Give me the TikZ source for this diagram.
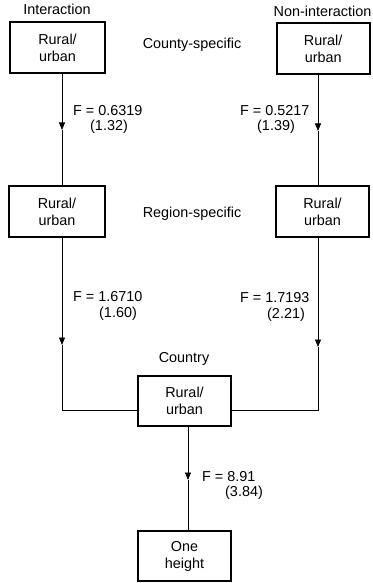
\documentclass[tikz,border=0pt]{standalone}
\usepackage{fontspec}
\setmainfont{Liberation Sans}
\usetikzlibrary{arrows.meta}
\begin{document}
\begin{tikzpicture}[x=1pt,y=-1pt,
  every node/.style={font=\fontsize{14.4}{17}\selectfont, inner sep=0pt},
  box/.style={draw, line width=1.8pt, align=center, minimum height=51pt},
  conn/.style={line width=0.8pt},
  arr/.style={conn,-{Triangle[width=6pt,length=7.5pt]}},
  lbl/.style={anchor=base west},
  head/.style={anchor=base}]
\useasboundingbox (0,0) rectangle (372,583);
% boxes
\node[box, minimum width=95pt] (L1) at (57.5,47.5) {Rural/\\urban};
\node[box, minimum width=93pt] (R1) at (323.2,48.5) {Rural/\\urban};
\node[box, minimum width=96pt] (L2) at (57,211.5) {Rural/\\urban};
\node[box, minimum width=93pt] (R2) at (322.5,211.5) {Rural/\\urban};
\node[box, minimum width=93pt, minimum height=50pt] (C) at (184.5,401) {Rural/\\urban};
\node[box, minimum width=93pt, minimum height=50pt] (B) at (184.5,556) {One\\height};
% headings
\node[head] (hI) at (57,15) {Interaction};
\node[anchor=base east] (hN) at (371.5,17) {Non-interaction};
\node[head] (hC) at (192,49) {County-specific};
\node[head] (hR) at (192,217) {Region-specific};
\node[head] (hK) at (184,362) {Country};
% connector points
\coordinate (aL1) at (62,130);
\coordinate (aR1) at (318,131);
\coordinate (aL2) at (62,345);
\coordinate (aR2) at (318,347);
\coordinate (jL) at (62,410);
\coordinate (jR) at (318,410);
\coordinate (aC) at (188,480);
% connectors
\draw[arr] (L1.south -| aL1) -- (aL1);
\draw[conn] (aL1) -- (L2.north -| aL1);
\draw[arr] (R1.south -| aR1) -- (aR1);
\draw[conn] (aR1) -- (R2.north -| aR1);
\draw[arr] (L2.south -| aL2) -- (aL2);
\draw[conn] (aL2) -- (jL) -- (C.west |- jL);
\draw[arr] (R2.south -| aR2) -- (aR2);
\draw[conn] (aR2) -- (jR) -- (C.east |- jR);
\draw[arr] (C.south -| aC) -- (aC);
\draw[conn] (aC) -- (B.north -| aC);
% labels
\node[lbl] (f1) at (73,115) {F = 0.6319};
\node[lbl] (p1) at (90,130) {(1.32)};
\node[lbl] (f2) at (240,115) {F = 0.5217};
\node[lbl] (p2) at (257,130) {(1.39)};
\node[lbl] (f3) at (73,301) {F = 1.6710};
\node[lbl] (p3) at (99,317) {(1.60)};
\node[lbl] (f4) at (240,302) {F = 1.7193};
\node[lbl] (p4) at (267,318) {(2.21)};
\node[lbl] (f5) at (202,481) {F = 8.91};
\node[lbl] (p5) at (225,496) {(3.84)};
\end{tikzpicture}
\end{document}
